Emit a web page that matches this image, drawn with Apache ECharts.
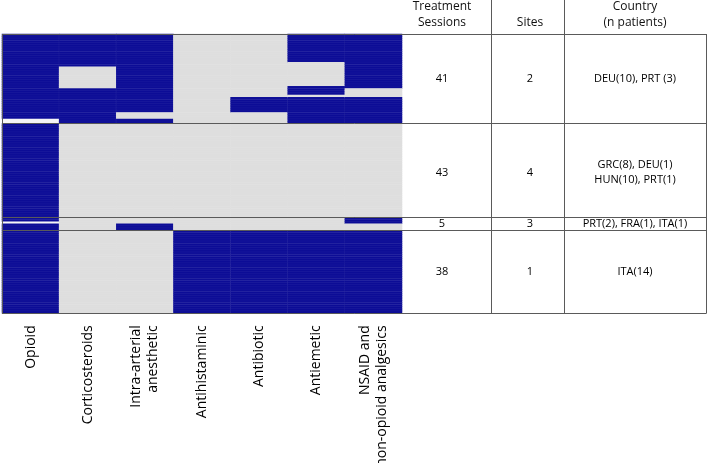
<!DOCTYPE html>
<html><head><meta charset="utf-8">
<script src="https://cdn.jsdelivr.net/npm/echarts@6/dist/echarts.min.js"></script>
<style>html,body{margin:0;padding:0;background:#fff}#c{width:708px;height:463px}</style>
</head><body><div id="c"></div>
<script>
// ---- data ----
const drugClasses = ['Opioid', 'Corticosteroids', 'Intra-arterial\nanesthetic', 'Antihistaminic', 'Antibiotic', 'Antiemetic', 'NSAID and\nnon-opioid analgesics'];
const groupRows = [41, 43, 6, 38];
// runs top-to-bottom: [state, rowCount]; 1 = given, 0 = not given, 2 = blank
const opioidRuns = [[1, 39], [2, 2], [1, 43], [1, 2], [2, 1], [1, 3], [1, 38]];
const corticoRuns = [[1, 15], [0, 10], [1, 16], [0, 43], [0, 6], [0, 38]];
const intraRuns = [[1, 36], [0, 3], [1, 2], [0, 43], [0, 3], [1, 3], [0, 38]];
const antihistRuns = [[0, 41], [0, 43], [0, 6], [1, 38]];
const antibioticRuns = [[0, 29], [1, 7], [0, 5], [0, 43], [0, 6], [1, 38]];
const antiemeticRuns = [[1, 13], [0, 11], [1, 4], [0, 1], [1, 12], [0, 43], [0, 6], [1, 38]];
const nsaidRuns = [[1, 25], [0, 4], [1, 12], [0, 43], [1, 3], [0, 3], [1, 38]];
const headers = ['Treatment\nSessions', 'Sites', 'Country\n(n patients)'];
const sessions = ['41', '43', '5', '38'];
const sites = ['2', '4', '3', '1'];
const countries = ['DEU(10), PRT (3)', 'GRC(8), DEU(1)\nHUN(10), PRT(1)', 'PRT(2), FRA(1), ITA(1)', 'ITA(14)'];

// ---- layout / style ----
const BLUE = '#0c0c96', GRAY = '#dedede', BLANK = '#f6f6f6', LINE = '#5a5a5a';
const FONT = '"Open Sans", "DejaVu Sans", sans-serif';
const tableSpan = 704;                 // overlay x-units (px-like) from heatmap left
const tableEdges = [488.7, 562.3];     // inner vertical rules
const textCenters = [440, 528, 633];

// ---- build ----
const runsByColumn = [opioidRuns, corticoRuns, intraRuns, antihistRuns, antibioticRuns, antiemeticRuns, nsaidRuns];
const heatData = [];
runsByColumn.forEach((runs, c) => {
  let r = 0;
  runs.forEach(([v, n]) => { for (let k = 0; k < n; k++) { heatData.push([c, r, v]); r++; } });
});
const totalRows = groupRows.reduce((a, b) => a + b, 0);
const rowNames = Array.from({length: totalRows}, (_, i) => String(i));
const groupSpans = [];
let acc = 0;
groupRows.forEach((n, i) => { groupSpans.push([acc, acc + n, i]); acc += n; });

const crisp = v => Math.round(v) + 0.5;

function renderTable(params, api) {
  const cs = params.coordSys;
  const i = api.value(2);
  const y0 = api.coord([0, api.value(0)])[1];
  const y1 = api.coord([0, api.value(1)])[1];
  const xL = cs.x, xR = cs.x + cs.width;
  const st = {stroke: LINE, lineWidth: 1, fill: null};
  const ch = [];
  const hline = y => ({type: 'line', shape: {x1: xL, y1: crisp(y), x2: crisp(xR), y2: crisp(y)}, style: st});
  ch.push(hline(y1));
  const bottom = cs.y + cs.height;
  if (i === 0) {
    ch.push(hline(y0));
    ch.push({type: 'line', shape: {x1: crisp(xL), y1: y0, x2: crisp(xL), y2: bottom}, style: st});
    ch.push({type: 'line', shape: {x1: crisp(xR), y1: y0, x2: crisp(xR), y2: bottom}, style: st});
    tableEdges.forEach(e => {
      const x = crisp(api.coord([e, 0])[0]);
      ch.push({type: 'line', shape: {x1: x, y1: 0, x2: x, y2: bottom}, style: st});
    });
    headers.forEach((h, k) => {
      ch.push({type: 'text', style: {text: h, x: api.coord([textCenters[k], 0])[0], y: cs.y - 4,
        align: 'center', verticalAlign: 'bottom', font: '12px ' + FONT, lineHeight: 15.7, fill: '#111'}});
    });
  }
  const ym = (y0 + y1) / 2;
  [sessions[i], sites[i], countries[i]].forEach((t, k) => {
    ch.push({type: 'text', style: {text: t, x: api.coord([textCenters[k], 0])[0], y: ym + (i === 1 ? 2 : 0),
      align: 'center', verticalAlign: 'middle', font: '11px ' + FONT, lineHeight: 14.4, fill: '#000'}});
  });
  return {type: 'group', children: ch};
}

const chart = echarts.init(document.getElementById('c'), null, {renderer: 'canvas'});
chart.setOption({
  animation: false,
  backgroundColor: '#fff',
  grid: [
    {left: 2, top: 34, width: 400, height: 279.3, containLabel: false, outerBoundsMode: 'none'},
    {left: 2, top: 34, width: 704, height: 279.3, containLabel: false, outerBoundsMode: 'none'}
  ],
  xAxis: [
    {type: 'category', gridIndex: 0, data: drugClasses,
      axisLine: {show: false}, axisTick: {show: false}, splitLine: {show: false},
      axisLabel: {rotate: 90, interval: 0, margin: 12, fontSize: 14, lineHeight: 17, fontFamily: FONT, color: '#000'}},
    {type: 'value', gridIndex: 1, min: 0, max: tableSpan, show: false}
  ],
  yAxis: [
    {type: 'category', gridIndex: 0, data: rowNames, inverse: true, show: false},
    {type: 'value', gridIndex: 1, min: 0, max: totalRows, inverse: true, show: false}
  ],
  visualMap: {type: 'piecewise', show: false, dimension: 2, seriesIndex: 0,
    pieces: [{value: 0, color: GRAY}, {value: 1, color: BLUE}, {value: 2, color: BLANK}]},
  series: [
    {type: 'heatmap', xAxisIndex: 0, yAxisIndex: 0, data: heatData,
      itemStyle: {borderColor: 'rgba(255,255,255,0.09)', borderWidth: 0.5},
      emphasis: {disabled: true}, progressive: 0},
    {type: 'custom', xAxisIndex: 1, yAxisIndex: 1, data: groupSpans, renderItem: renderTable, z: 5, silent: true}
  ]
});
</script></body></html>
